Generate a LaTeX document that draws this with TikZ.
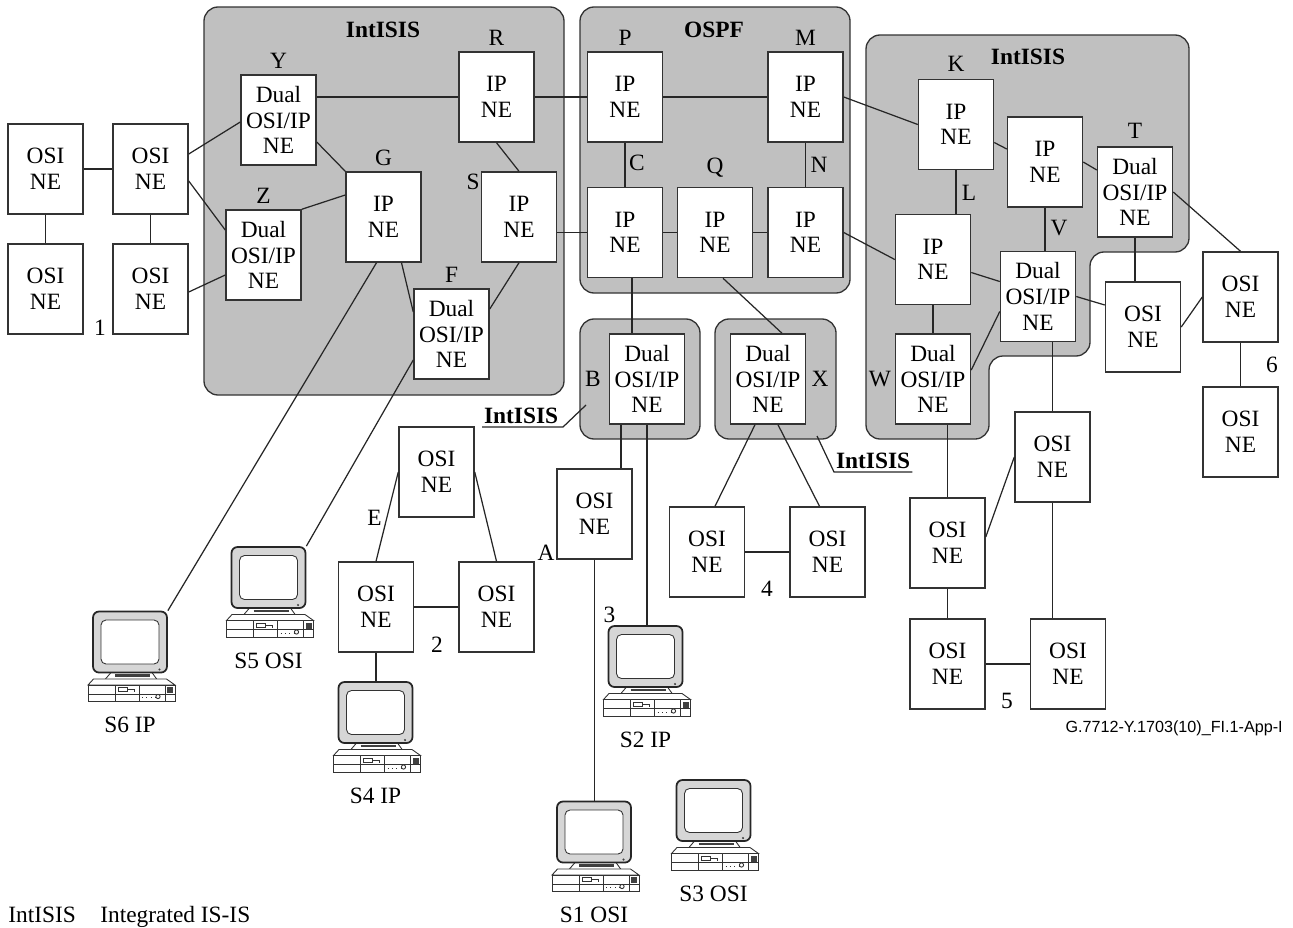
\documentclass[tikz,border=0pt]{standalone}
\usepackage{fontspec}
\setmainfont{Liberation Serif}
\newfontfamily\codefont{Liberation Sans}
\usetikzlibrary{positioning}

\definecolor{zonegray}{RGB}{192,192,192}
\definecolor{crtgray}{RGB}{214,214,214}

\tikzset{
  pics/terminal/.style={code={
    % stand and desktop unit under the screen
    \draw[hw] (-19,30.5) -- (22,30.5) -- (27,37.5) -- (-25,37.5) -- cycle;
    \draw[line width=1.4pt, black!75] (-15,33.5) -- (20,33.5);
    \draw[hw] (-36.5,37) -- (36.5,37) -- (45,43) -- (-42,43) -- cycle;
    \draw[hw] (-42,43) rectangle (45,59.5);
    \draw[hw] (-42,52) -- (45,52) (-15,43) -- (-15,59.5) (9,43) -- (9,59.5) (35,43) -- (35,59.5);
    \draw[hw] (-12,45.5) rectangle (-3,49.5) (-3,47.5) -- (4,47.5) -- (4,50);
    \draw[hw, dotted] (12,55.5) -- (26,55.5);
    \draw[hw] (28,54.5) circle (1.2pt);
    \fill[black!75] (37,45) rectangle (43,51);
    % screen
    \node[crt] (-crt) at (0,0) {};
    \draw[hw, fill=white, rounded corners=0.1cm] (-29,-22) rectangle (29,22);
    \fill[black!75] (29.5,27.5) circle (0.7pt);
    \node (-name) at (0,83) {#1};
  }},
}

\begin{document}
\begin{tikzpicture}[x=0.02cm, y=-0.02cm,
    every node/.style={font=\fontsize{13.3}{14.6}\selectfont},
    ne/.style={draw=black!80, fill=white, line width=0.85pt, minimum width=1.5cm,
      minimum height=1.8cm, inner sep=0pt, align=center},
    tag/.style={inner sep=1pt},
    title/.style={font=\fontsize{13.3}{14.6}\selectfont\bfseries, inner sep=1pt},
    zone/.style={draw=black!80, fill=zonegray, line width=0.75pt, rounded corners=0.28cm},
    link/.style={draw=black!85, line width=0.7pt},
    hw/.style={draw=black!80, line width=0.5pt, fill=white},
    crt/.style={draw=black!85, fill=crtgray, line width=1pt, rounded corners=0.12cm,
      minimum width=1.48cm, minimum height=1.22cm, inner sep=0pt},
  ]
  \useasboundingbox (0,0) rectangle (1293,927);

  % routing areas
  \draw[zone] (204,7) rectangle (564,395);
  \draw[zone] (580,7) rectangle (850,293);
  \draw[zone] (580,319) rectangle (700,439);
  \draw[zone] (715,319) rectangle (836,439);
  \draw[zone] (866,35) -- (1189,35) -- (1189,252) -- (1090,252) -- (1090,356)
    -- (989,356) -- (989,439) -- (866,439) -- cycle;

  \node[title] (isisL) at (383,30) {IntISIS};
  \node[title] (ospf) at (714,30) {OSPF};
  \node[title] (isisR) at (1028,57) {IntISIS};

  % left part
  \node[ne] (o1a) at (45.5,169) {OSI\\NE};
  \node[ne] (o1b) at (150.5,169) {OSI\\NE};
  \node[ne] (o1c) at (45.5,289) {OSI\\NE};
  \node[ne] (o1d) at (150.5,289) {OSI\\NE};
  \node[ne] (Y) at (278.5,120) {Dual\\OSI/IP\\NE};
  \node[ne] (Z) at (263.5,255) {Dual\\OSI/IP\\NE};
  \node[ne] (G) at (383.5,217) {IP\\NE};
  \node[ne] (R) at (496.5,97) {IP\\NE};
  \node[ne] (S) at (519,217) {IP\\NE};
  \node[ne] (F) at (451.5,334) {Dual\\OSI/IP\\NE};

  % OSPF area
  \node[ne] (P) at (625,97) {IP\\NE};
  \node[ne] (M) at (805.5,97) {IP\\NE};
  \node[ne] (ipC) at (625,232.5) {IP\\NE};
  \node[ne] (Q) at (715,232.5) {IP\\NE};
  \node[ne] (ipN) at (805.5,232.5) {IP\\NE};

  % right part
  \node[ne] (K) at (956,124.5) {IP\\NE};
  \node[ne] (ipV) at (1045,162) {IP\\NE};
  \node[ne] (T) at (1135,192) {Dual\\OSI/IP\\NE};
  \node[ne] (ipL) at (933,259.5) {IP\\NE};
  \node[ne] (V) at (1038,296.5) {Dual\\OSI/IP\\NE};
  \node[ne] (W) at (933,379) {Dual\\OSI/IP\\NE};
  \node[ne] (o6a) at (1143,327) {OSI\\NE};
  \node[ne] (o6b) at (1240.5,297) {OSI\\NE};
  \node[ne] (o6c) at (1240.5,432) {OSI\\NE};
  \node[ne] (o5a) at (947.5,543) {OSI\\NE};
  \node[ne] (o5b) at (1052.5,457) {OSI\\NE};
  \node[ne] (o5d) at (947.5,664) {OSI\\NE};
  \node[ne] (o5c) at (1068,664) {OSI\\NE};

  % middle
  \node[ne] (B) at (647,379) {Dual\\OSI/IP\\NE};
  \node[ne] (X) at (768,379) {Dual\\OSI/IP\\NE};
  \node[ne] (A) at (594.5,514) {OSI\\NE};
  \node[ne] (E) at (436.5,472) {OSI\\NE};
  \node[ne] (o2a) at (376,607) {OSI\\NE};
  \node[ne] (o2b) at (496.5,607) {OSI\\NE};
  \node[ne] (o4a) at (707,552) {OSI\\NE};
  \node[ne] (o4b) at (827.5,552) {OSI\\NE};

  % stations
  \pic (s6) at (130,642) {terminal=S6 IP};
  \pic (s5) at (268.5,577.5) {terminal=S5 OSI};
  \pic (s4) at (375.5,712.5) {terminal=S4 IP};
  \pic (s2) at (645.5,656.5) {terminal=S2 IP};
  \pic (s1) at (594,832) {terminal=S1 OSI};
  \pic (s3) at (713.5,810.5) {terminal=S3 OSI};

  % letters
  \node[tag, above=2pt of Y] (tY) {Y};
  \node[tag, above=2pt of Z] (tZ) {Z};
  \node[tag, above=2pt of G] (tG) {G};
  \node[tag, above=2pt of R] (tR) {R};
  \node[tag, above=2pt of F] (tF) {F};
  \node[tag, above=2pt of P] (tP) {P};
  \node[tag, above=2pt of M] (tM) {M};
  \node[tag, above=4pt of Q] (tQ) {Q};
  \node[tag, above=3pt of K] (tK) {K};
  \node[tag, above=3pt of T] (tT) {T};
  \node[tag] (tS) at (473,182) {S};
  \node[tag] (tC) at (637,163) {C};
  \node[tag] (tN) at (819,165) {N};
  \node[tag] (tL) at (969,193) {L};
  \node[tag] (tV) at (1059,228) {V};
  \node[tag] (tW) at (880,379) {W};
  \node[tag] (tB) at (593,379) {B};
  \node[tag] (tX) at (820,379) {X};
  \node[tag] (tE) at (374.5,518) {E};
  \node[tag] (tA) at (546,553) {A};
  \node[tag] (n1) at (100,328) {1};
  \node[tag] (n2) at (437,645) {2};
  \node[tag] (n3) at (609.5,615) {3};
  \node[tag] (n4) at (767,589) {4};
  \node[tag] (n5) at (1007,701) {5};
  \node[tag] (n6) at (1272,365) {6};

  % links, left part
  \draw[link] (o1a) -- (o1b);
  \draw[link] (o1a) -- (o1c);
  \draw[link] (o1b) -- (o1d);
  \draw[link] ([shift={(0,-15)}]o1b.east) -- ([shift={(0,2)}]Y.west);
  \draw[link] ([shift={(0,12)}]o1b.east) -- ([shift={(0,-25)}]Z.west);
  \draw[link] ([shift={(0,3)}]o1d.east) -- ([shift={(0,20)}]Z.west);
  \draw[link] ([shift={(0,22)}]Y.east) -- (G.north west);
  \draw[link] (Z.north east) -- ([shift={(0,-22)}]G.west);
  \draw[link] (R.west -| Y.east) -- (R.west);
  \draw[link] (R) -- (P);
  \draw[link] (R.south) -- (S.north);
  \draw[link] (ipC.west -| S.east) -- (ipC.west);
  \draw[link] ([shift={(18,0)}]G.south) -- ([shift={(0,-22)}]F.west);
  \draw[link] (S.south) -- ([shift={(0,-25)}]F.east);
  \draw[link] ([shift={(-7,0)}]G.south) -- (s6-crt.north east);
  \draw[link] ([shift={(0,26)}]F.west) -- (s5-crt.north east);

  % links, OSPF area
  \draw[link] (P) -- (M);
  \draw[link] (P) -- (ipC);
  \draw[link] (M) -- (ipN);
  \draw[link] (ipC) -- (Q);
  \draw[link] (Q) -- (ipN);
  \draw[link] (M.east) -- (K.west);
  \draw[link] (ipN.east) -- (ipL.west);
  \draw[link] ([shift={(7,0)}]ipC.south) -- ([shift={(7,0)}]ipC.south |- B.north);
  \draw[link] ([shift={(8,0)}]Q.south) -- ([shift={(14,0)}]X.north);

  % links, right part
  \draw[link] (K.south) -- (K.south |- ipL.north);
  \draw[link] ([shift={(0,18)}]K.east) -- ([shift={(0,-13)}]ipV.west);
  \draw[link] (ipV.east) -- ([shift={(0,-22)}]T.west);
  \draw[link] (ipV.south) -- (ipV.south |- V.north);
  \draw[link] ([shift={(0,13)}]ipL.east) -- ([shift={(0,-15)}]V.west);
  \draw[link] ([shift={(0,-9)}]W.east) -- ([shift={(0,15)}]V.west);
  \draw[link] (ipL.south) -- (W.north);
  \draw[link] (T.east) -- (o6b.north);
  \draw[link] (T.south) -- (T.south |- o6a.north);
  \draw[link] (V.east) -- ([shift={(0,-22)}]o6a.west);
  \draw[link] (o6a.east) -- (o6b.west);
  \draw[link] (o6b) -- (o6c);
  \draw[link] (o5b.north |- V.south) -- (o5b.north);
  \draw[link] (o5a.north |- W.south) -- (o5a.north);
  \draw[link] ([shift={(0,-6)}]o5a.east) -- (o5b.west);
  \draw[link] (o5a) -- (o5d);
  \draw[link] (o5b.south) -- (o5b.south |- o5c.north);
  \draw[link] (o5d) -- (o5c);

  % links, middle
  \draw[link] ([shift={(-26,0)}]B.south) -- ([shift={(-26,0)}]B.south |- A.north);
  \draw[link] (B.south) -- (B.south |- s2-crt.north);
  \draw[link] (A.south) -- (A.south |- s1-crt.north);
  \draw[link] (E.west) -- (o2a.north);
  \draw[link] (E.east) -- (o2b.north);
  \draw[link] (o2a) -- (o2b);
  \draw[link] (o2a.south) -- (o2a.south |- s4-crt.north);
  \draw[link] ([shift={(-13,0)}]X.south) -- ([shift={(8,0)}]o4a.north);
  \draw[link] ([shift={(10,0)}]X.south) -- ([shift={(-8,0)}]o4b.north);
  \draw[link] (o4a) -- (o4b);

  % area callouts
  \node[title, anchor=base west] (noteB) at (482,423) {IntISIS};
  \coordinate (inB) at (586,405);
  \draw[link] ([shift={(0,4)}]noteB.base west) -- ([shift={(81,4)}]noteB.base west) -- (inB);
  \node[title, anchor=base west] (noteX) at (834,468) {IntISIS};
  \coordinate (inX) at (817,436);
  \draw[link] (inX) -- ([shift={(0,4)}]noteX.base west) -- ([shift={(0,4)}]noteX.base east);

  % key and figure number
  \node[anchor=base west, inner sep=0pt] (key) at (8,922) {IntISIS};
  \node[anchor=base west, inner sep=0pt] (keytext) at (100,922) {Integrated IS-IS};
  \node[anchor=base east, inner sep=0pt, font=\codefont\fontsize{9.2}{11}\selectfont] (figid)
    at (1283,732) {G.7712-Y.1703(10)\_FI.1-App-I};
\end{tikzpicture}
\end{document}
